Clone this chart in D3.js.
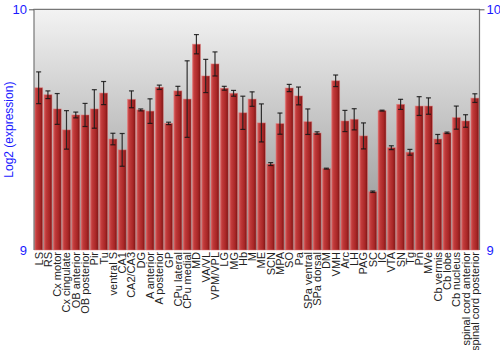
<!DOCTYPE html>
<html><head><meta charset="utf-8">
<script src="https://cdn.jsdelivr.net/npm/d3@7"></script>
<style>body{margin:0;background:#fff}svg{display:block;font-family:"Liberation Sans",Arial,sans-serif}</style>
</head><body><svg id="c" width="500" height="350"></svg>
<script>
const categories = ["LS","RS","Cx motor","Cx cingulate","OB anterior","OB posterior","Pir","Tu","ventral S","CA1","CA2/CA3","DG","A anterior","A posterior","GP","CPu lateral","CPu medial","MD","VA/VL","VPM/VPL","LG","MG","Hb","M","ME","SCN","MPA","SO","Pa","SPa ventral","SPa dorsal","DM","VMH","Arc","LH","PAG","SC","IC","VTA","SN","Tg","Pn","MVe","Cb vermis","Cb lobe","Cb nucleus","spinal cord anterior","spinal cord posterior"];
const values = [9.674,9.645,9.586,9.499,9.561,9.561,9.586,9.652,9.461,9.416,9.626,9.582,9.577,9.676,9.526,9.661,9.627,9.855,9.723,9.773,9.672,9.651,9.570,9.627,9.528,9.357,9.525,9.673,9.640,9.533,9.486,9.338,9.703,9.536,9.543,9.474,9.242,9.579,9.425,9.605,9.406,9.598,9.598,9.461,9.487,9.550,9.536,9.631];
const errors = [0.066,0.016,0.064,0.080,0.012,0.048,0.080,0.048,0.024,0.068,0.035,0.004,0.051,0.009,0.005,0.019,0.159,0.040,0.069,0.050,0.008,0.012,0.069,0.030,0.079,0.006,0.044,0.015,0.037,0.053,0.005,0.002,0.024,0.044,0.044,0.054,0.003,0.002,0.008,0.021,0.012,0.039,0.034,0.019,0.003,0.048,0.026,0.018];
const yTicks = [9, 10];

const svg = d3.select("#c");
const L = 34, R = 479.5, T = 9.3, B = 250;
const x = d3.scaleBand().domain(categories).range([L, R]).paddingInner(0.14).paddingOuter(0.07);
const y = d3.scaleLinear().domain([9, 10]).range([B, T]);

const defs = svg.append("defs");
const bg = defs.append("linearGradient").attr("id","bg").attr("x1",0).attr("y1",0).attr("x2",0).attr("y2",1);
bg.append("stop").attr("offset","0%").attr("stop-color","#f3f3f3");
bg.append("stop").attr("offset","100%").attr("stop-color","#8e8e8e");
const bar = defs.append("linearGradient").attr("id","bar").attr("x1",0).attr("y1",0).attr("x2",1).attr("y2",0);
bar.append("stop").attr("offset","0%").attr("stop-color","#d86060");
bar.append("stop").attr("offset","25%").attr("stop-color","#c03a3a");
bar.append("stop").attr("offset","70%").attr("stop-color","#a82626");
bar.append("stop").attr("offset","100%").attr("stop-color","#7a1414");

svg.append("rect").attr("x",L).attr("y",T).attr("width",R-L).attr("height",B-T).attr("fill","url(#bg)");

const idx = d3.range(categories.length);
svg.append("g").selectAll("rect").data(idx).join("rect")
  .attr("x", i => x(categories[i]))
  .attr("y", i => y(values[i]))
  .attr("width", x.bandwidth())
  .attr("height", i => y(9) - y(values[i]))
  .attr("fill","url(#bar)")
  .attr("stroke","rgba(230,120,120,0.6)").attr("stroke-width",0.8);

const eg = svg.append("g");
idx.forEach(i => {
  const cx = x(categories[i]) + x.bandwidth()/2;
  const y1 = y(values[i] + errors[i]), y2 = y(values[i] - errors[i]);
  eg.append("line").attr("x1",cx).attr("x2",cx).attr("y1",y1).attr("y2",y2).attr("stroke","rgba(30,30,30,0.9)").attr("stroke-width",1.2);
  [y1,y2].forEach(yy => eg.append("line").attr("x1",cx-2.5).attr("x2",cx+2.5).attr("y1",yy).attr("y2",yy).attr("stroke","rgba(20,20,20,0.85)").attr("stroke-width",1.2));
});

// frame
svg.append("path").attr("d",`M${L},${B}V${T}H${R}V${B}`).attr("fill","none").attr("stroke","#777").attr("stroke-width",1.2);

// axes
const fmt = d3.format("d");
const la = svg.append("g").attr("transform",`translate(${L},0)`).call(d3.axisLeft(y).tickValues(yTicks).tickFormat(fmt).tickSize(5).tickPadding(2));
const ra = svg.append("g").attr("transform",`translate(${R},0)`).call(d3.axisRight(y).tickValues(yTicks).tickFormat(fmt).tickSize(5).tickPadding(2));
[la,ra].forEach(a => {
  a.select(".domain").remove();
  a.selectAll(".tick line").attr("stroke","#555");
  a.selectAll(".tick text").attr("fill","#1a1aff").attr("font-size",13).attr("font-family","Liberation Sans, Arial, sans-serif");
});
la.selectAll(".tick").filter(d => d === 9).select("line").remove();
ra.selectAll(".tick").filter(d => d === 9).select("line").remove();

svg.append("text").attr("transform",`translate(13,${(T+B)/2}) rotate(-90)`).attr("text-anchor","middle")
  .attr("fill","#1a1aff").attr("font-size",12).text("Log2 (expression)");

// x labels
svg.append("g").selectAll("text").data(categories).join("text")
  .attr("transform", d => `translate(${x(d) + x.bandwidth()/2 + 4},${B + 2}) rotate(-90)`)
  .attr("text-anchor","end").attr("font-size",11).attr("fill","#222").text(d => d);
</script></body></html>
